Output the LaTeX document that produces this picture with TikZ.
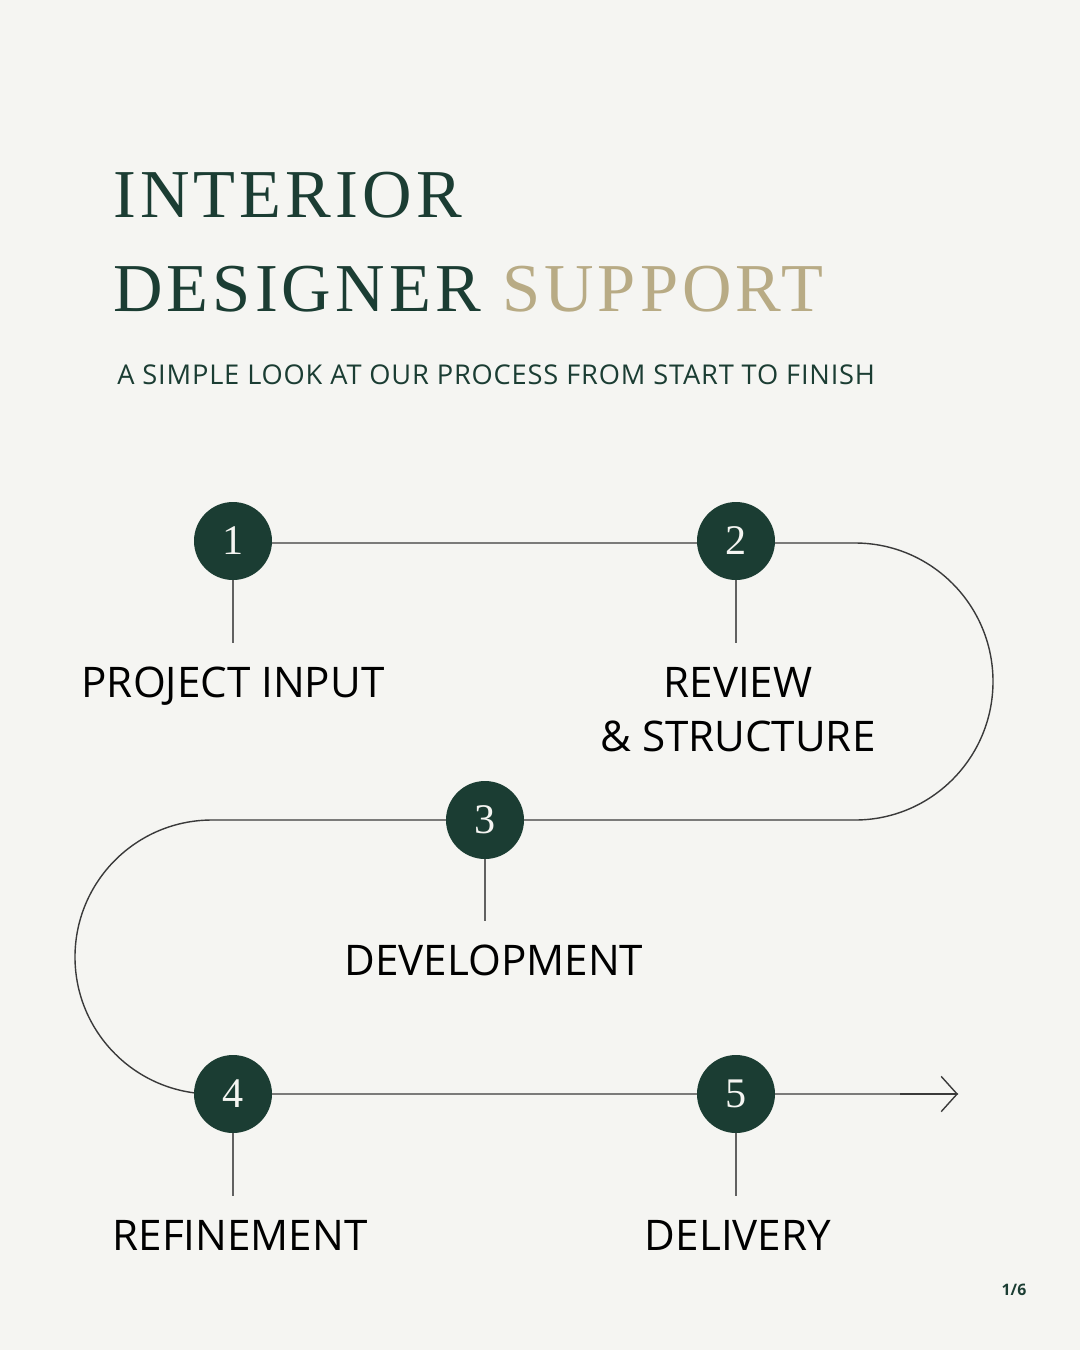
\documentclass[tikz,border=0pt]{standalone}
\usepackage{fontspec}
\setmainfont{Liberation Serif}
\setsansfont{Open Sans}
\newfontfamily\titlefont[LetterSpace=6]{Liberation Serif}
\newfontfamily\subfont[LetterSpace=3]{Open Sans}
\usetikzlibrary{arrows.meta}
\definecolor{pine}{HTML}{1B3D33}
\definecolor{sand}{HTML}{B8AB85}
\definecolor{paper}{HTML}{F5F5F2}
\definecolor{ink}{HTML}{3A3A3A}
\tikzset{
  stepdot/.style={circle, fill=pine, minimum size=78*0.02cm, inner sep=0pt,
    text=paper, font=\fontsize{24}{24}\selectfont},
  steplabel/.style={font=\sffamily\fontsize{24}{31}\selectfont, text=black, align=center},
  track/.style={draw=ink, line width=0.8pt},
  stem/.style={draw=ink!80, line width=0.7pt}
}
\begin{document}
\begin{tikzpicture}[x=0.02cm, y=-0.02cm]
\fill[paper] (0,0) rectangle (1080,1350);
\useasboundingbox (0,0) rectangle (1080,1350);

% title
\node[anchor=base west, inner sep=0pt, text=pine, font=\titlefont\fontsize{39}{40}\selectfont] (t1) at (113,217) {INTERIOR};
\node[anchor=base west, inner sep=0pt, font=\titlefont\fontsize{39}{40}\selectfont] (t2) at (113,311)
  {\textcolor{pine}{DESIGNER} \textcolor{sand}{SUPPORT}};
\node[anchor=base west, inner sep=0pt, text=pine, font=\subfont\fontsize{15.5}{16}\selectfont] (sub) at (117,384)
  {A SIMPLE LOOK AT OUR PROCESS FROM START TO FINISH};

% path
\coordinate (r1) at (855,543);
\coordinate (l1) at (212,820);
\coordinate (end) at (958,1094);
\draw[track] (233,543) -- (r1) arc[start angle=90, end angle=-90, x radius=138, y radius=-138.5]
  -- (l1) arc[start angle=90, end angle=270, x radius=137, y radius=-137] -- (end);
\draw[track, -{Straight Barb[length=9pt, width=20pt]}] (900,1094) -- (end);

% steps
\node[stepdot] (s1) at (233,541) {1};
\node[stepdot] (s2) at (736,541) {2};
\node[stepdot] (s3) at (485,820) {3};
\node[stepdot] (s4) at (233,1094) {4};
\node[stepdot] (s5) at (736,1094) {5};

\coordinate (e1) at (233,643);
\coordinate (e2) at (736,643);
\coordinate (e3) at (485,921);
\coordinate (e4) at (233,1196);
\coordinate (e5) at (736,1196);
\foreach \i in {1,...,5} \draw[stem] (s\i.south) -- (e\i);

\node[steplabel, anchor=base] (p1) at (233,697) {PROJECT INPUT};
\node[steplabel, anchor=north, inner sep=0pt] (p2) at (738,667) {REVIEW\\\& STRUCTURE};
\node[steplabel, anchor=base] (p3) at (494,975) {DEVELOPMENT};
\node[steplabel, anchor=base] (p4) at (240,1250) {REFINEMENT};
\node[steplabel, anchor=base] (p5) at (738,1250) {DELIVERY};

\node[anchor=base, font=\sffamily\bfseries\fontsize{9}{9}\selectfont, text=pine] (pg) at (1014,1295) {1/6};
\end{tikzpicture}
\end{document}
